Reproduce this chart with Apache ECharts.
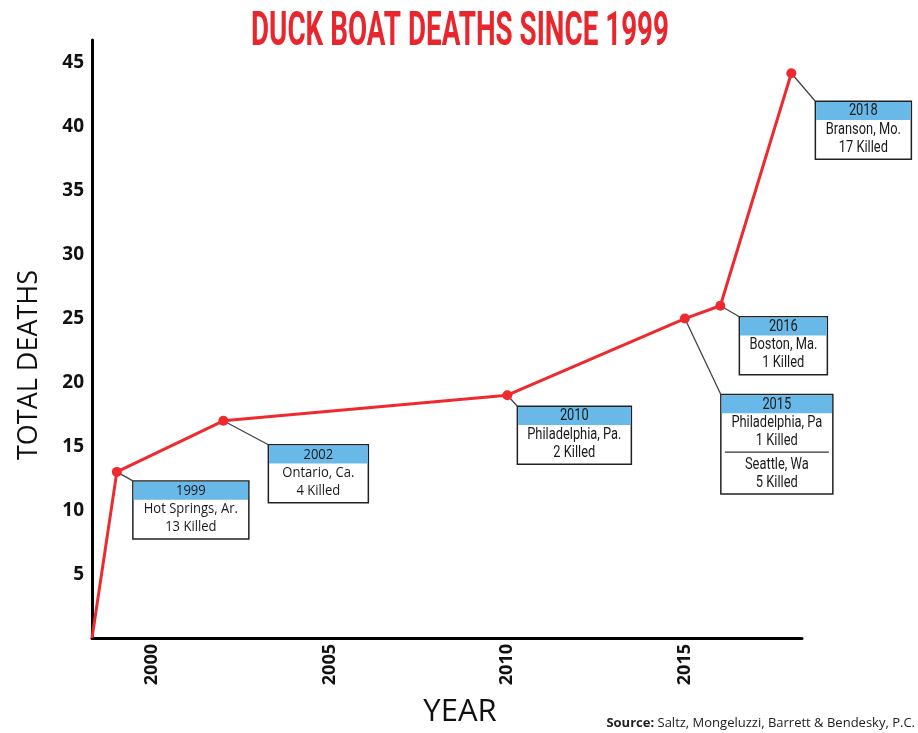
<!DOCTYPE html>
<html>
<head>
<meta charset="utf-8">
<script src="https://cdn.jsdelivr.net/npm/echarts@6/dist/echarts.min.js"></script>
<style>html,body{margin:0;padding:0;background:#fff}#c{width:918px;height:733px}</style>
</head>
<body>
<div id="c"></div>
<script>
// ---- data ----
var years = [1998.3, 1999, 2002, 2010, 2015, 2016, 2018];
var totalDeaths = [0, 13, 17, 19, 25, 26, 44.2];
var xTickLabels = [2000, 2005, 2010, 2015];
var yTickLabels = [5, 10, 15, 20, 25, 30, 35, 40, 45];
var eventYears = [1999, 2002, 2010, 2015, 2016, 2018];
var eventTotals = [13, 17, 19, 25, 26, 44.2];
var eventHeaders = ['1999', '2002', '2010', '2015', '2016', '2018'];
var eventBodies = [
  ['Hot Springs, Ar.', '13 Killed'],
  ['Ontario, Ca.', '4 Killed'],
  ['Philadelphia, Pa.', '2 Killed'],
  ['Philadelphia, Pa', '1 Killed', '|', 'Seattle, Wa', '5 Killed'],
  ['Boston, Ma.', '1 Killed'],
  ['Branson, Mo.', '17 Killed']
];
var titleText = 'DUCK BOAT DEATHS SINCE 1999';

// ---- layout / style (not data) ----
var boxLayout = [
  {dx: 16, dy: 9,  w: 116, font: "14px 'Open Sans'", sx: 0.93},
  {dx: 45, dy: 24, w: 100, font: "14px 'Open Sans'", sx: 0.93},
  {dx: 10, dy: 11, w: 114, font: "16.5px Roboto", sx: 0.78},
  {dx: 36, dy: 76, w: 112, font: "16.5px Roboto", sx: 0.78},
  {dx: 19, dy: 11, w: 88,  font: "16.5px Roboto", sx: 0.78},
  {dx: 24, dy: 28, w: 96,  font: "16.5px Roboto", sx: 0.78}
];
var RED = '#ee2a2f';
var BLUE = '#69b9e8';

var chart = echarts.init(document.getElementById('c'));
var lineData = years.map(function (y, i) { return [y, totalDeaths[i]]; });

chart.setOption({
  animation: false,
  grid: {left: 92, right: 116, top: 40, bottom: 95, containLabel: false},
  xAxis: {
    type: 'value', min: 1998.3, max: 2018.3,
    splitLine: {show: false},
    axisLine: {show: true, lineStyle: {color: '#000', width: 3}},
    axisTick: {show: false},
    axisLabel: {
      customValues: xTickLabels, rotate: 90, margin: 6,
      formatter: function (v) { return String(v); },
      color: '#111', fontWeight: 'bold', fontSize: 18, fontFamily: "'Open Sans'"
    }
  },
  yAxis: {
    type: 'value', min: 0, max: 46.8,
    splitLine: {show: false},
    axisLine: {show: true, lineStyle: {color: '#000', width: 3}},
    axisTick: {show: false},
    axisLabel: {
      customValues: yTickLabels, margin: 8,
      color: '#111', fontWeight: 'bold', fontSize: 19, fontFamily: "'Open Sans'"
    }
  },
  series: [{
    type: 'line',
    data: lineData,
    lineStyle: {color: RED, width: 3},
    itemStyle: {color: RED},
    symbol: 'circle',
    symbolSize: function (v, p) { return p.dataIndex === 0 ? 0 : 10; },
    z: 5
  }]
});

// measure title to fit the condensed look
var cv = document.createElement('canvas').getContext('2d');
var titleFont = "bold 49px Roboto";
cv.font = titleFont;
var titleW = cv.measureText(titleText).width;
var titleScale = 418 / titleW;

var g = [];
g.push({type: 'text', x: 460, y: 33, scaleX: titleScale, scaleY: 1,
  style: {text: titleText, font: titleFont, fill: '#e8262d', align: 'center', verticalAlign: 'middle', textAlign: 'center', textVerticalAlign: 'middle'}});
g.push({type: 'text', rotation: Math.PI / 2, x: 29, y: 365,
  style: {text: 'TOTAL DEATHS', font: "27px 'Open Sans'", fill: '#111', align: 'center', verticalAlign: 'middle', textAlign: 'center', textVerticalAlign: 'middle'}});
g.push({type: 'text', x: 460, y: 712,
  style: {text: 'YEAR', font: "31px 'Open Sans'", fill: '#111', align: 'center', verticalAlign: 'middle', textAlign: 'center', textVerticalAlign: 'middle'}});
g.push({type: 'text', right: 3, bottom: 3,
  style: {text: '{b|Source:} Saltz, Mongeluzzi, Barrett & Bendesky, P.C.', font: "13px 'Open Sans'", fill: '#222',
    rich: {b: {fontWeight: 'bold', fontSize: 13, fontFamily: 'Open Sans', fill: '#222', color: '#222'}}}});

eventYears.forEach(function (yr, i) {
  var p = chart.convertToPixel({xAxisIndex: 0, yAxisIndex: 0}, [yr, eventTotals[i]]);
  var L = boxLayout[i];
  var bx = p[0] + L.dx, by = p[1] + L.dy;
  var headH = 18, lineH = 18;
  var body = eventBodies[i];
  var nLines = 0;
  body.forEach(function (t) { nLines += (t === '|') ? 0.3 : 1; });
  var h = headH + nLines * lineH + 4;
  g.push({type: 'line', z: 3, shape: {x1: p[0], y1: p[1], x2: bx, y2: by}, style: {stroke: '#444', lineWidth: 1.3}});
  var children = [
    {type: 'rect', shape: {x: 0, y: 0, width: L.w, height: h}, style: {fill: '#fff', stroke: '#222', lineWidth: 1.5}},
    {type: 'rect', shape: {x: 0.75, y: 0.75, width: L.w - 1.5, height: headH}, style: {fill: BLUE}},
    {type: 'text', x: L.w / 2, y: headH / 2 + 1, scaleX: L.sx, style: {text: eventHeaders[i], font: L.font, fill: '#1a1a1a', align: 'center', verticalAlign: 'middle', textAlign: 'center', textVerticalAlign: 'middle'}}
  ];
  var cy = headH + 1;
  body.forEach(function (t) {
    if (t === '|') {
      children.push({type: 'line', shape: {x1: 4, y1: cy + 2.5, x2: L.w - 4, y2: cy + 2.5}, style: {stroke: '#333', lineWidth: 1.3}});
      cy += 0.3 * lineH;
    } else {
      children.push({type: 'text', x: L.w / 2, y: cy + lineH / 2 + 0.5, scaleX: L.sx, style: {text: t, font: L.font, fill: '#1a1a1a', align: 'center', verticalAlign: 'middle', textAlign: 'center', textVerticalAlign: 'middle'}});
      cy += lineH;
    }
  });
  g.push({type: 'group', x: bx, y: by, z: 4, children: children});
});

chart.setOption({graphic: g});
</script>
</body>
</html>
